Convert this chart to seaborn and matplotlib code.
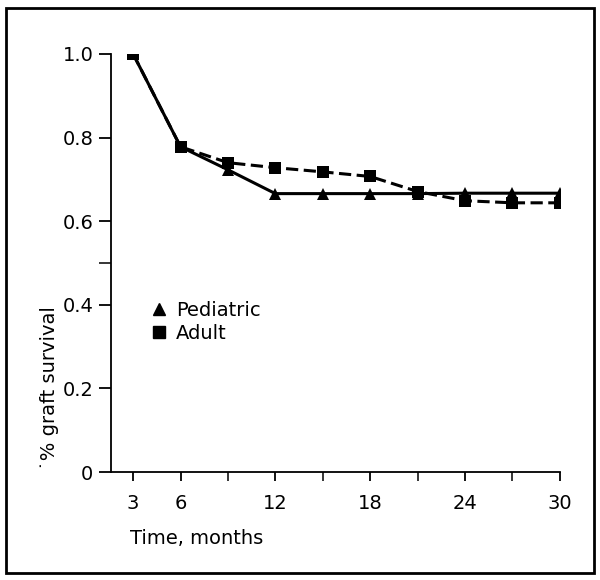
import matplotlib
matplotlib.use("Agg")
import pandas as pd
import matplotlib.pyplot as plt
import seaborn as sns
from matplotlib.lines import Line2D
from matplotlib.patches import Rectangle
from matplotlib.ticker import FixedLocator

# graft survival by time after transplant
months = [3, 6, 9, 12, 15, 18, 21, 24, 27, 30]
pediatric = [1.0, 0.778, 0.723, 0.666, 0.666, 0.666, 0.666, 0.667, 0.667, 0.667]
adult = [1.0, 0.778, 0.740, 0.728, 0.718, 0.707, 0.671, 0.649, 0.644, 0.644]
major_x = [3, 6, 12, 18, 24, 30]
minor_x = [9, 15, 21, 27]

sns.set_theme(style="ticks")
plt.rcParams['font.family'] = ['DejaVu Sans']
plt.rcParams['text.color'] = 'black'

df = pd.DataFrame({"month": months, "Pediatric": pediatric, "Adult": adult})

fig = plt.figure(figsize=(6, 5.8), dpi=100)
ax = fig.add_axes([0.185, 0.186, 0.748, 0.721])

sns.lineplot(data=df, x="month", y="Pediatric", ax=ax, color="black", lw=2.2,
             marker="^", markersize=9, markeredgewidth=0)
sns.lineplot(data=df, x="month", y="Adult", ax=ax, color="black", lw=2.2,
             marker="s", markersize=8.5, markeredgewidth=0, linestyle=(0, (4, 1.8)))

ax.set_xlim(1.6, 30)
ax.set_ylim(0, 1.0)
ax.xaxis.set_major_locator(FixedLocator(major_x))
ax.xaxis.set_minor_locator(FixedLocator(minor_x))
ax.set_yticks([0, 0.2, 0.4, 0.6, 0.8, 1.0])
ax.set_yticklabels(["0", "0.2", "0.4", "0.6", "0.8", "1.0"])
ax.yaxis.set_minor_locator(FixedLocator([0.5]))

for s in ["top", "right"]:
    ax.spines[s].set_visible(False)
for s in ["left", "bottom"]:
    ax.spines[s].set_linewidth(1.3)
    ax.spines[s].set_color("black")

ax.tick_params(axis="y", which="major", length=8.6, width=1.3, labelsize=14, pad=4, colors="black")
ax.tick_params(axis="y", which="minor", length=8.6, width=1.3)
ax.tick_params(axis="x", which="major", length=6.5, width=1.3, labelsize=14, pad=9, colors="black")
ax.tick_params(axis="x", which="minor", length=6.5, width=1.3)

ax.set_xlabel("Time, months", fontsize=14, color="black")
ax.xaxis.set_label_coords(0.19, -0.135)
ax.set_ylabel("˙% graft survival", fontsize=14, color="black")
ax.yaxis.set_label_coords(-0.115, 0.2)

handles = [Line2D([], [], color="black", marker="^", markersize=9, linestyle="none"),
           Line2D([], [], color="black", marker="s", markersize=8, linestyle="none")]
leg = ax.legend(handles, ["Pediatric", "Adult"], loc="center left", bbox_to_anchor=(0.05, 0.36),
                frameon=False, fontsize=14, handlelength=0.8, handletextpad=0.5, labelspacing=0.2)
for t in leg.get_texts():
    t.set_color("black")

fig.patches.append(Rectangle((0.01, 0.012), 0.98, 0.975, transform=fig.transFigure,
                             fill=False, edgecolor="black", lw=2))

plt.savefig("out.png", dpi=100)
